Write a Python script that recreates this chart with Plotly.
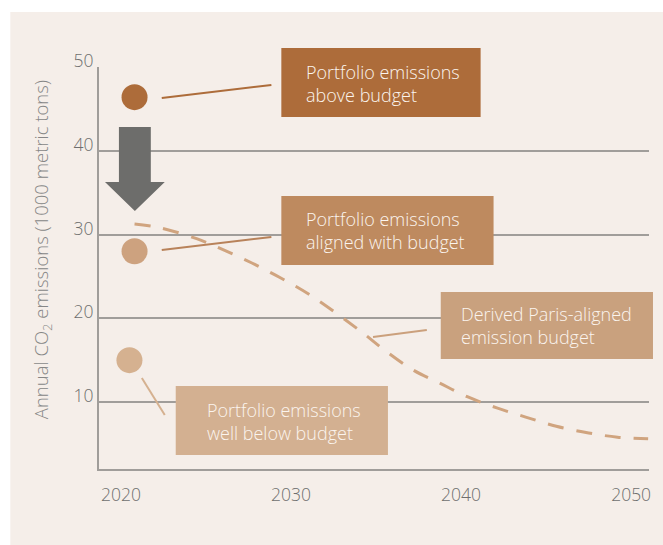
import plotly.graph_objects as go

# ---- data ----
point_years = [2020.8, 2020.8, 2020.5]
point_values = [46.4, 28.0, 15.0]
point_colors = ["#AD6C3A", "#CDA27F", "#D5B190"]

budget_years = [2020.8, 2022.3, 2024.45, 2026.1, 2027.7, 2029.4, 2031.1, 2034.0, 2035.5,
                2037.2, 2038.7, 2040.4, 2042.1, 2043.8, 2045.6, 2047.5, 2049.2, 2051.0]
budget_values = [31.25, 30.8, 29.5, 28.1, 26.6, 24.8, 22.8, 18.6, 16.2,
                 13.8, 12.3, 10.6, 9.3, 8.2, 7.1, 6.3, 5.8, 5.6]

x_ticks = [2020, 2030, 2040, 2050]
y_ticks = [10, 20, 30, 40, 50]

labels = [
    "Portfolio emissions<br>above budget",
    "Portfolio emissions<br>aligned with budget",
    "Derived Paris-aligned<br>emission budget",
    "Portfolio emissions<br>well below budget",
]
y_title = "Annual CO<sub>2</sub> emissions (1000 metric tons)"

# ---- layout geometry (page pixels) ----
W, H = 663, 545
L, R, T, B = 99, 651, 67, 469          # plot area in page pixels
BG = "#F5EEE9"
GRID = "#A09D9A"
FONT = "Open Sans"


def px(p):
    return (p - L) / (R - L)


def py(p):
    return (B - p) / (B - T)


fig = go.Figure()

fig.add_trace(go.Scatter(
    x=budget_years, y=budget_values, mode="lines",
    line=dict(color="#D0A47F", width=3, dash="16px,13px", shape="spline"),
    hoverinfo="skip", showlegend=False,
))
fig.add_trace(go.Scatter(
    x=point_years, y=point_values, mode="markers",
    marker=dict(size=26, color=point_colors, line=dict(width=0)),
    showlegend=False,
))

shapes = []
# beige panel
shapes.append(dict(type="rect", xref="paper", yref="paper",
                   x0=px(10), x1=px(W + 5), y0=py(12), y1=py(H + 5),
                   fillcolor=BG, line=dict(width=0), layer="below"))

boxes = [
    (282, 482, 48, 117, "#AD6C3A", (162, 98, 272, 85), "#AD6C3A", (305, 83)),
    (282, 495, 196, 265, "#BE8A5F", (162, 250, 272, 237), "#B8825A", (305, 230)),
    (442, 655, 292, 359, "#C9A17E", (374, 337, 428, 330), "#CBA07C", (460, 325)),
    (176, 389, 386, 455, "#D3B091", (142, 378, 165, 415), "#D5B190", (205, 421)),
]
annotations = []
for (x0, x1, y0, y1, fc, (lx0, ly0, lx1, ly1), lc, (tx, ty)), txt in zip(boxes, labels):
    shapes.append(dict(type="rect", xref="paper", yref="paper",
                       x0=px(x0), x1=px(x1), y0=py(y1), y1=py(y0),
                       fillcolor=fc, line=dict(width=0), layer="above"))
    shapes.append(dict(type="line", xref="paper", yref="paper",
                       x0=px(lx0), y0=py(ly0), x1=px(lx1), y1=py(ly1),
                       line=dict(color=lc, width=2), layer="above"))
    annotations.append(dict(xref="paper", yref="paper", x=px(tx), y=py(ty),
                            xanchor="left", yanchor="middle", align="left",
                            text=txt, showarrow=False,
                            font=dict(family=FONT, size=18, color="#FBF4EE", weight=300)))

# arrow
pts = [(119, 127), (151, 127), (151, 182), (165, 182), (135, 211), (105, 182), (119, 182)]
path = "M " + " L ".join(f"{px(a)},{py(b)}" for a, b in pts) + " Z"
shapes.append(dict(type="path", xref="paper", yref="paper", path=path,
                   fillcolor="#6D6D6B", line=dict(width=0), layer="above"))

annotations.append(dict(xref="paper", yref="paper", x=px(42), y=py(250),
                        xanchor="center", yanchor="middle", textangle=-90,
                        text=y_title, showarrow=False,
                        font=dict(family=FONT, size=18.5, color="#868686", weight=300)))

fig.update_layout(
    width=W, height=H,
    margin=dict(l=L, r=W - R, t=T, b=H - B, pad=0),
    paper_bgcolor="white", plot_bgcolor=BG,
    shapes=shapes, annotations=annotations,
    font=dict(family=FONT, color="#707070", size=17),
    xaxis=dict(range=[2018.71, 2051.05], tickvals=x_ticks, showgrid=False,
               showline=True, linecolor=GRID, linewidth=2, ticks="",
               zeroline=False, ticklabelstandoff=9,
               tickfont=dict(family=FONT, size=17.5, color="#6E6E6E", weight=300)),
    yaxis=dict(range=[2, 50], tickvals=y_ticks, showgrid=True, gridcolor=GRID,
               gridwidth=1.5, showline=True, linecolor=GRID, linewidth=2,
               ticks="", zeroline=False, ticklabelstandoff=0, ticklabelshift=-6,
               tickfont=dict(family=FONT, size=17.5, color="#6E6E6E", weight=300)),
    showlegend=False,
)

fig.write_html("out.html", config={"displayModeBar": False},
               post_script="document.body.style.margin='0';")
